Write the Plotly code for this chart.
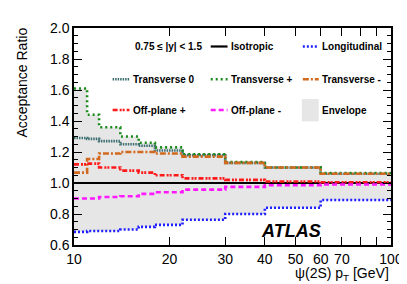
import plotly.graph_objects as go

# bin edges in pT [GeV]
edges = [10, 11, 12, 14, 16, 18, 22, 30, 40, 60, 100]

isotropic    = [1.00, 1.00, 1.00, 1.00, 1.00, 1.00, 1.00, 1.00, 1.00, 1.00]
longitudinal = [0.685, 0.69, 0.69, 0.70, 0.717, 0.73, 0.763, 0.80, 0.84, 0.89]
transverse0  = [1.29, 1.285, 1.27, 1.25, 1.24, 1.21, 1.18, 1.13, 1.10, 1.06]
transverse_p = [1.61, 1.44, 1.36, 1.30, 1.26, 1.23, 1.185, 1.135, 1.10, 1.065]
transverse_m = [1.067, 1.155, 1.19, 1.20, 1.20, 1.19, 1.17, 1.13, 1.10, 1.06]
offplane_p   = [1.12, 1.125, 1.10, 1.08, 1.067, 1.05, 1.03, 1.02, 1.01, 1.005]
offplane_m   = [0.90, 0.90, 0.91, 0.915, 0.93, 0.94, 0.957, 0.975, 0.985, 0.99]

series_names = ["Isotropic", "Longitudinal", "Transverse 0", "Transverse +",
                "Transverse -", "Off-plane +", "Off-plane -"]
series_vals = [isotropic, longitudinal, transverse0, transverse_p,
               transverse_m, offplane_p, offplane_m]

x_labeled = [10, 20, 30, 40, 50, 60, 70, 100]
x_unlabeled = [80, 90]

colors = {
    "Isotropic": "#000000",
    "Longitudinal": "#1f1fff",
    "Transverse 0": "#3d6e70",
    "Transverse +": "#1a8a1a",
    "Transverse -": "#d2691e",
    "Off-plane +": "#ff1a1a",
    "Off-plane -": "#ff1aff",
}
dashes = {
    "Isotropic": "solid",
    "Longitudinal": "2px,2px",
    "Transverse 0": "1.5px,1px",
    "Transverse +": "2px,3px",
    "Transverse -": "6px,2px,2px,2px",
    "Off-plane +": "5px,2px,2px,1px,2px,2px",
    "Off-plane -": "5px,3px",
}

def stepy(v):
    return list(v) + [v[-1]]

env_lo = [min(col) for col in zip(*series_vals)]
env_hi = [max(col) for col in zip(*series_vals)]

FONT = "Liberation Sans, Arial, Helvetica, sans-serif"

fig = go.Figure()
fig.add_trace(go.Scatter(x=edges, y=stepy(env_lo), mode="lines", line_shape="hv",
                         line=dict(width=0, color="rgba(0,0,0,0)"), showlegend=False,
                         hoverinfo="skip"))
fig.add_trace(go.Scatter(x=edges, y=stepy(env_hi), mode="lines", line_shape="hv",
                         line=dict(width=0, color="rgba(0,0,0,0)"), fill="tonexty",
                         fillcolor="#e6e6e6", showlegend=False, hoverinfo="skip"))

for name, vals in zip(series_names, series_vals):
    fig.add_trace(go.Scatter(x=edges, y=stepy(vals), mode="lines", line_shape="hv",
                             name=name, showlegend=False,
                             line=dict(color=colors[name], width=2.6 if name != "Isotropic" else 2.2,
                                       dash=dashes[name])))

# plot area pixel helpers
L, R, T, B = 66, 386, 14, 237
def px(x):
    return (x - L) / (R - L)
def py(y):
    return (B - y) / (B - T)

LFS = 10
shapes = []
annotations = []
rows = [33, 66.7, 98.3]
cols = [(105, 122, 124), (204, 221, 222), (297, 313, 314)]
legend_layout = [
    (0, 1, "Isotropic"), (0, 2, "Longitudinal"),
    (1, 0, "Transverse 0"), (1, 1, "Transverse +"), (1, 2, "Transverse -"),
    (2, 0, "Off-plane +"), (2, 1, "Off-plane -"),
]
for r, c, name in legend_layout:
    x0, x1, xt = cols[c]
    yy = py(rows[r])
    shapes.append(dict(type="line", xref="paper", yref="paper", x0=px(x0), x1=px(x1),
                       y0=yy, y1=yy,
                       line=dict(color=colors[name], width=2.6 if name != "Isotropic" else 2.2,
                                 dash=dashes[name])))
    annotations.append(dict(xref="paper", yref="paper", x=px(xt), y=yy, text="<b>%s</b>" % name,
                            xanchor="left", yanchor="middle", showarrow=False,
                            font=dict(family=FONT, size=LFS, color="black")))
# envelope box
shapes.append(dict(type="rect", xref="paper", yref="paper", x0=px(296), x1=px(313),
                   y0=py(110), y1=py(87), fillcolor="#e6e6e6", line=dict(width=0)))
annotations.append(dict(xref="paper", yref="paper", x=px(314), y=py(rows[2]), text="<b>Envelope</b>",
                        xanchor="left", yanchor="middle", showarrow=False,
                        font=dict(family=FONT, size=LFS, color="black")))
annotations.append(dict(xref="paper", yref="paper", x=px(197), y=py(rows[0]),
                        text="<b>0.75 ≤ |y| < 1.5</b>", xanchor="right", yanchor="middle",
                        showarrow=False, font=dict(family=FONT, size=LFS, color="black")))
annotations.append(dict(xref="paper", yref="paper", x=px(285), y=py(223),
                        text="<b><i>ATLAS</i></b>", xanchor="center", yanchor="middle",
                        showarrow=False, font=dict(family=FONT, size=18, color="black")))
annotations.append(dict(xref="paper", yref="paper", x=1.0, y=py(267),
                        text="ψ(2S) p<sub>T</sub> [GeV]", xanchor="right", yanchor="middle",
                        showarrow=False, font=dict(family=FONT, size=14, color="black")))
annotations.append(dict(xref="paper", yref="paper", x=px(14), y=py(11),
                        text="Acceptance Ratio", textangle=-90, xanchor="center", yanchor="top",
                        showarrow=False, font=dict(family=FONT, size=14, color="black")))

fig.update_layout(
    width=407, height=284,
    margin=dict(l=L, r=407 - R, t=T, b=284 - B),
    paper_bgcolor="white", plot_bgcolor="white",
    font=dict(family=FONT, size=14, color="black"),
    shapes=shapes, annotations=annotations,
    xaxis=dict(type="log", range=[1, 2], tickvals=x_labeled,
               ticktext=[str(v) for v in x_labeled],
               ticks="inside", ticklen=8, tickcolor="black", tickwidth=1,
               minor=dict(tickvals=x_unlabeled, ticks="inside", ticklen=8, tickcolor="black"),
               showline=True, linecolor="black", linewidth=1.5, mirror="ticks",
               showgrid=False, zeroline=False, tickfont=dict(size=14)),
    yaxis=dict(range=[0.6, 2.0], dtick=0.2, tick0=0.6, tickformat=".1f",
               ticks="inside", ticklen=8, tickcolor="black", tickwidth=1,
               minor=dict(dtick=0.05, ticks="inside", ticklen=4, tickcolor="black"),
               showline=True, linecolor="black", linewidth=1.5, mirror="ticks",
               showgrid=False, zeroline=False, tickfont=dict(size=14)),
)

fig.write_html("out.html")
